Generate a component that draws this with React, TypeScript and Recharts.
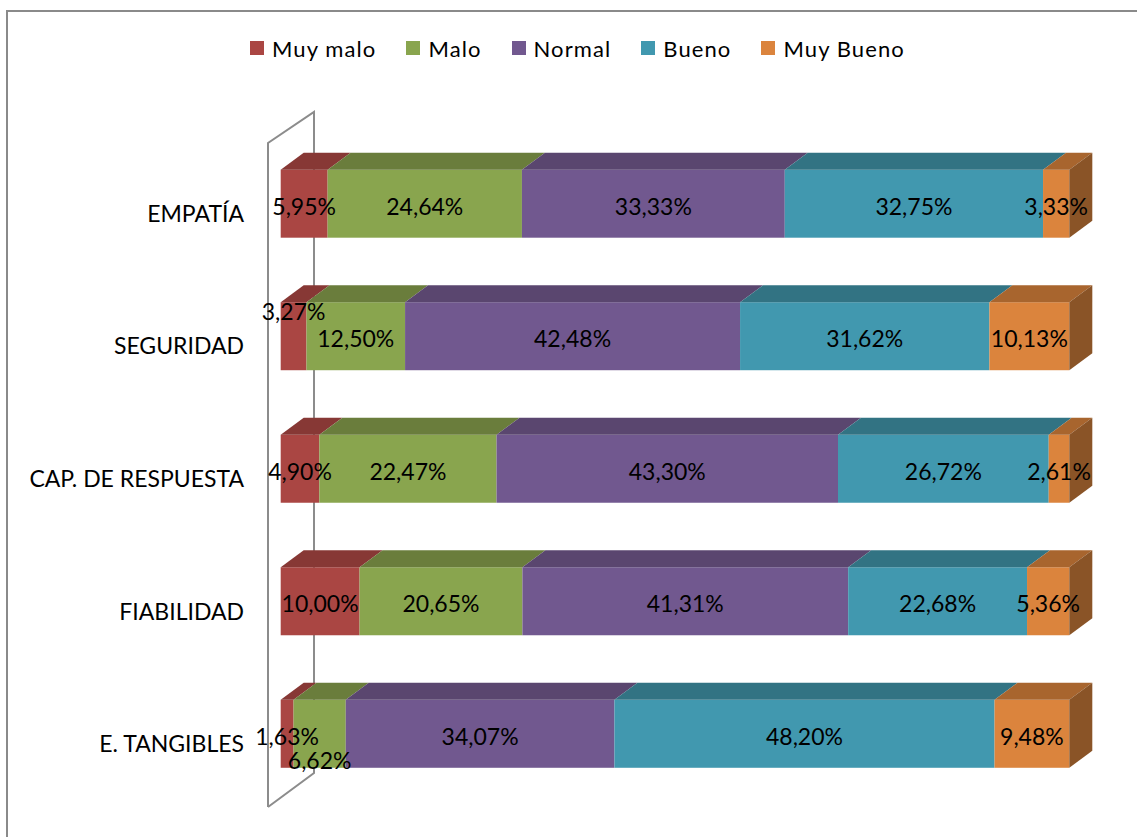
import { BarChart, Bar, XAxis, YAxis, LabelList } from "recharts";

const categories = ["EMPATÍA", "SEGURIDAD", "CAP. DE RESPUESTA", "FIABILIDAD", "E. TANGIBLES"];
const muyMalo = [5.95, 3.27, 4.9, 10.0, 1.63];
const malo = [24.64, 12.5, 22.47, 20.65, 6.62];
const normal = [33.33, 42.48, 43.3, 41.31, 34.07];
const bueno = [32.75, 31.62, 26.72, 22.68, 48.2];
const muyBueno = [3.33, 10.13, 2.61, 5.36, 9.48];

const series = [
  { key: "muyMalo", name: "Muy malo", values: muyMalo, front: "#AA4643", top: "#873835" },
  { key: "malo", name: "Malo", values: malo, front: "#89A54E", top: "#6A7D3C" },
  { key: "normal", name: "Normal", values: normal, front: "#71588F", top: "#5A466F" },
  { key: "bueno", name: "Bueno", values: bueno, front: "#4198AF", top: "#327383" },
  { key: "muyBueno", name: "Muy Bueno", values: muyBueno, front: "#DB843D", top: "#A8652E", side: "#8A5427" },
];

const data = categories.map((name, i) => {
  const row: Record<string, string | number> = { name };
  series.forEach((s) => (row[s.key] = s.values[i]));
  return row;
});

// excel moved a couple of labels so they don't collide
const labelNudge: Record<string, number> = { "muyMalo-1": -27, "malo-4": 24 };

const DX = 23;
const DY = 17;
const FONT = "Lato, 'Open Sans', sans-serif";

function box3d(front: string, top: string, side?: string) {
  return (p: any) => {
    const { x, y, width: w, height: h } = p;
    if (!w || w <= 0) return <g />;
    return (
      <g>
        <rect x={x} y={y} width={w} height={h} fill={front} />
        <polygon points={`${x},${y} ${x + w},${y} ${x + w + DX},${y - DY} ${x + DX},${y - DY}`} fill={top} />
        {side && (
          <polygon
            points={`${x + w},${y} ${x + w + DX},${y - DY} ${x + w + DX},${y + h - DY} ${x + w},${y + h}`}
            fill={side}
          />
        )}
      </g>
    );
  };
}

function pctLabel(key: string) {
  return (p: any) => {
    const { x, y, width, height, value, index } = p;
    const dy = labelNudge[`${key}-${index}`] || 0;
    return (
      <text
        x={x + width / 2}
        y={y + height / 2 + 2 + dy}
        textAnchor="middle"
        dominantBaseline="central"
        fontSize={23}
        fontFamily={FONT}
        fill="#000"
      >
        {Number(value).toFixed(2).replace(".", ",")}%
      </text>
    );
  };
}

function CatTick(p: any) {
  const { y, payload } = p;
  return (
    <text x={244} y={y + 9} textAnchor="end" dominantBaseline="central" fontSize={23} fontFamily={FONT} fill="#000">
      {payload.value}
    </text>
  );
}

export default function App() {
  return (
    <div style={{ position: "absolute", left: 0, top: 0, width: 1137, height: 837, overflow: "hidden", background: "#fff" }}>
      <div
        style={{
          position: "absolute",
          left: 6,
          top: 10,
          width: 1200,
          height: 900,
          borderLeft: "2px solid #8a8a8a",
          borderTop: "2px solid #8a8a8a",
        }}
      />
      <svg style={{ position: "absolute", left: 0, top: 0 }} width={1137} height={837}>
        <polyline points="268,807 268,143 314,112 314,773 268,807" fill="none" stroke="#8c8c8c" strokeWidth={2} />
      </svg>
      <div
        style={{
          position: "absolute",
          left: 250,
          top: 34,
          height: 28,
          display: "flex",
          alignItems: "center",
          fontFamily: FONT,
          fontSize: 22,
          letterSpacing: 1.1,
          color: "#000",
          whiteSpace: "nowrap",
        }}
      >
        {series.map((s) => (
          <div key={s.key} style={{ display: "flex", alignItems: "center", marginRight: 30 }}>
            <span style={{ display: "inline-block", width: 14, height: 14, background: s.front, marginRight: 8 }} />
            <span>{s.name}</span>
          </div>
        ))}
      </div>
      <div style={{ position: "absolute", left: 0, top: 0 }}>
        <BarChart
          width={1137}
          height={837}
          data={data}
          layout="vertical"
          margin={{ top: 137.7, right: 67.7, bottom: 36.7, left: 0 }}
          barSize={68}
        >
          <XAxis type="number" domain={[0, 100]} hide />
          <YAxis type="category" dataKey="name" width={280.7} axisLine={false} tickLine={false} tick={<CatTick />} interval={0} />
          {series.map((s) => (
            <Bar
              key={s.key}
              dataKey={s.key}
              name={s.name}
              stackId="a"
              fill={s.front}
              isAnimationActive={false}
              shape={box3d(s.front, s.top, s.side)}
            >
              <LabelList dataKey={s.key} content={pctLabel(s.key)} />
            </Bar>
          ))}
        </BarChart>
      </div>
    </div>
  );
}
